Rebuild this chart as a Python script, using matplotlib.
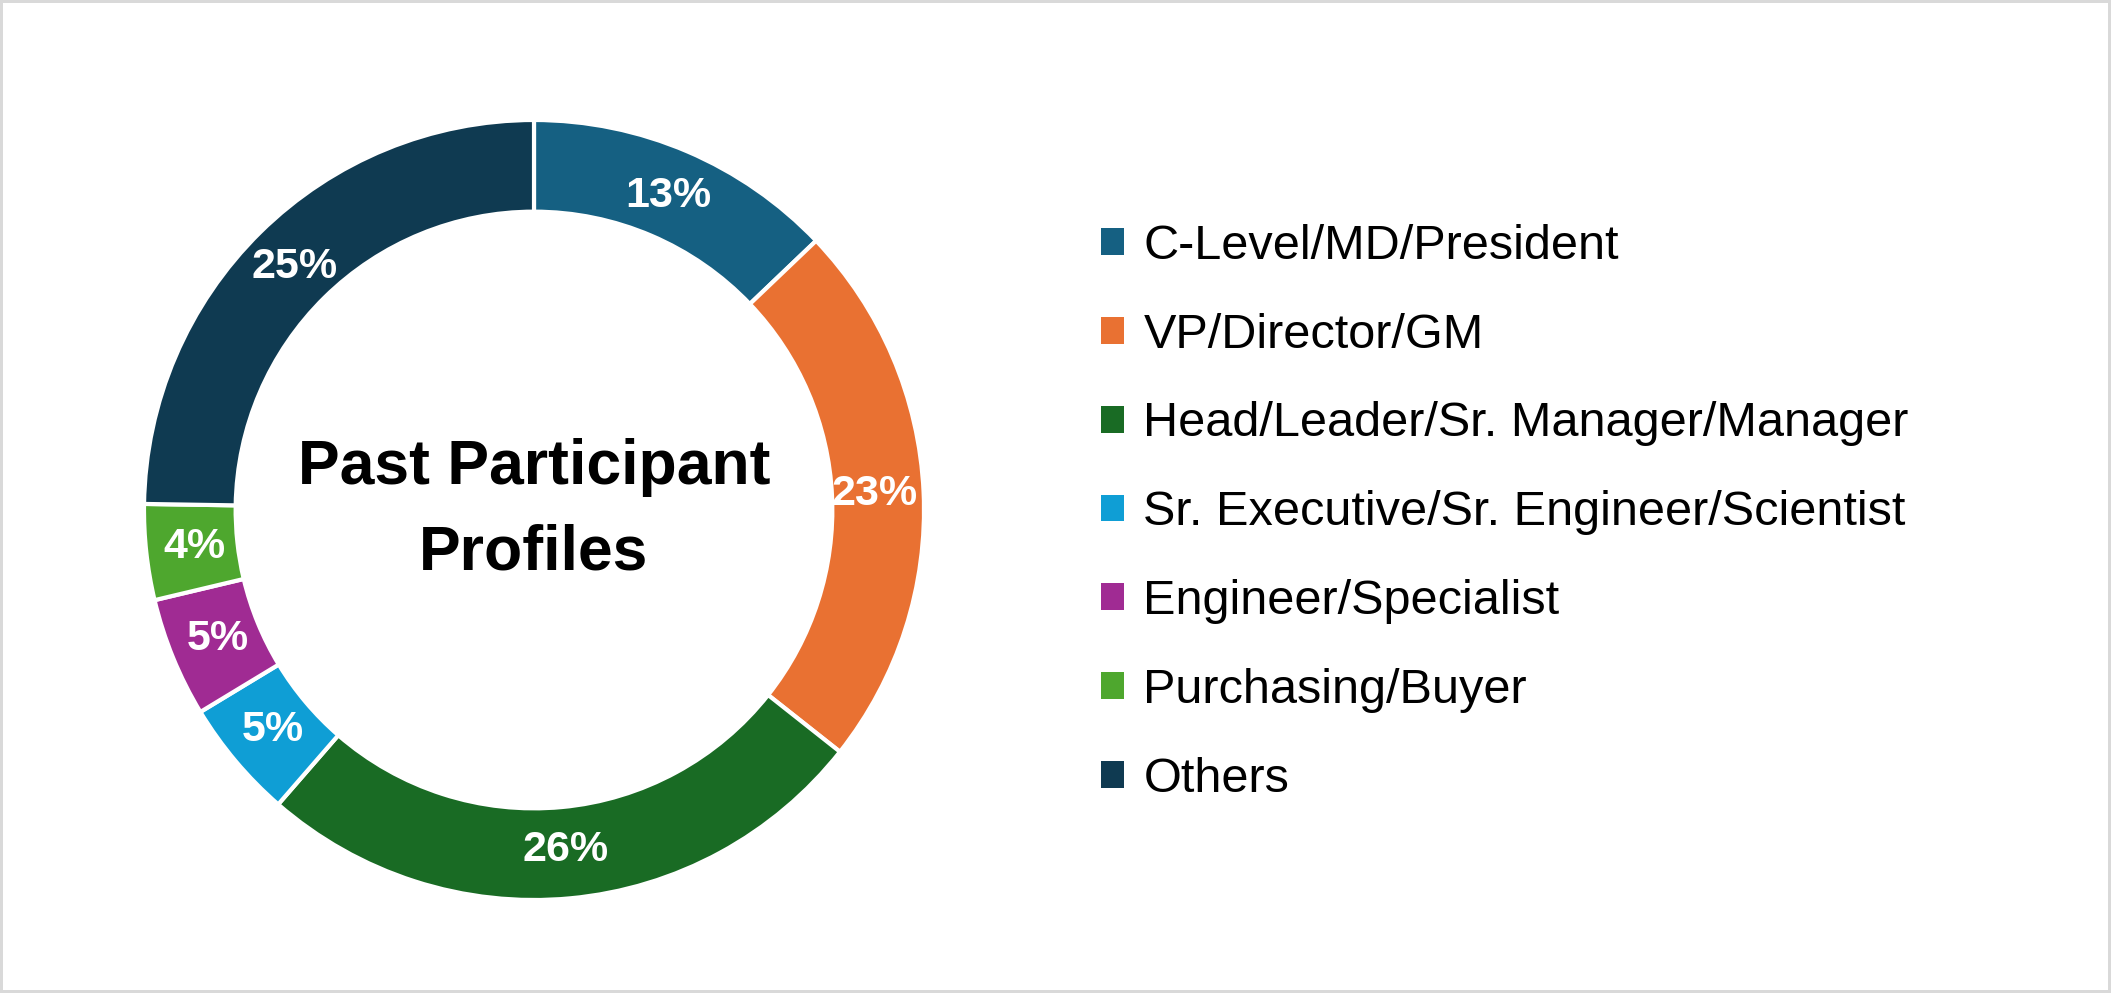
import matplotlib
matplotlib.use("Agg")
import matplotlib.pyplot as plt
from matplotlib.patches import Rectangle
from matplotlib import font_manager

categories = [
    "C-Level/MD/President",
    "VP/Director/GM",
    "Head/Leader/Sr. Manager/Manager",
    "Sr. Executive/Sr. Engineer/Scientist",
    "Engineer/Specialist",
    "Purchasing/Buyer",
    "Others",
]
values = [13, 23, 26, 5, 5, 4, 25]
colors = ["#156082", "#E97132", "#196B24", "#0F9ED5", "#A02B93", "#4EA72E", "#0F3A51"]
center_title = "Past Participant\nProfiles"

W, H, DPI = 2111, 993, 100
fig = plt.figure(figsize=(W / DPI, H / DPI), dpi=DPI)
fig.patch.set_facecolor("white")

avail = {f.name for f in font_manager.fontManager.ttflist}
legend_font = "Liberation Sans" if "Liberation Sans" in avail else "DejaVu Sans"
label_font = legend_font

# donut axes: centre (534, 510 from top), outer radius 390 px
cx, cy, R = 534, 510, 390
ax = fig.add_axes([(cx - R) / W, (H - cy - R) / H, 2 * R / W, 2 * R / H])
ax.set_xlim(-1, 1)
ax.set_ylim(-1, 1)
ax.set_aspect("equal")
ax.axis("off")

wedges, texts, autotexts = ax.pie(
    values,
    colors=colors,
    startangle=90,
    counterclock=False,
    radius=1.0,
    autopct="%.0f%%",
    pctdistance=0.875,
    wedgeprops=dict(width=0.235, edgecolor="white", linewidth=3),
    textprops=dict(color="white", fontsize=31, fontweight="bold", family=label_font),
)
ax.set_xlim(-1, 1)
ax.set_ylim(-1, 1)

ax.text(0, 0.0, center_title, ha="center", va="center", fontsize=45,
        fontweight="bold", family=label_font, color="black", linespacing=1.57)

leg = fig.legend(
    wedges, categories,
    loc="upper left",
    bbox_to_anchor=(1101 / W, (H - 224) / H),
    frameon=False,
    borderpad=0, borderaxespad=0,
    handlelength=0.47, handleheight=0.47, handletextpad=0.4,
    labelspacing=0.90,
    prop=dict(family=legend_font, size=35),
)
for h in leg.legend_handles:
    h.set_linewidth(0)

fig.patches.append(Rectangle((0, 0), 1, 1, transform=fig.transFigure,
                             fill=False, edgecolor="#d9d9d9", linewidth=4.3))

fig.savefig("out.png", dpi=DPI, facecolor="white")
